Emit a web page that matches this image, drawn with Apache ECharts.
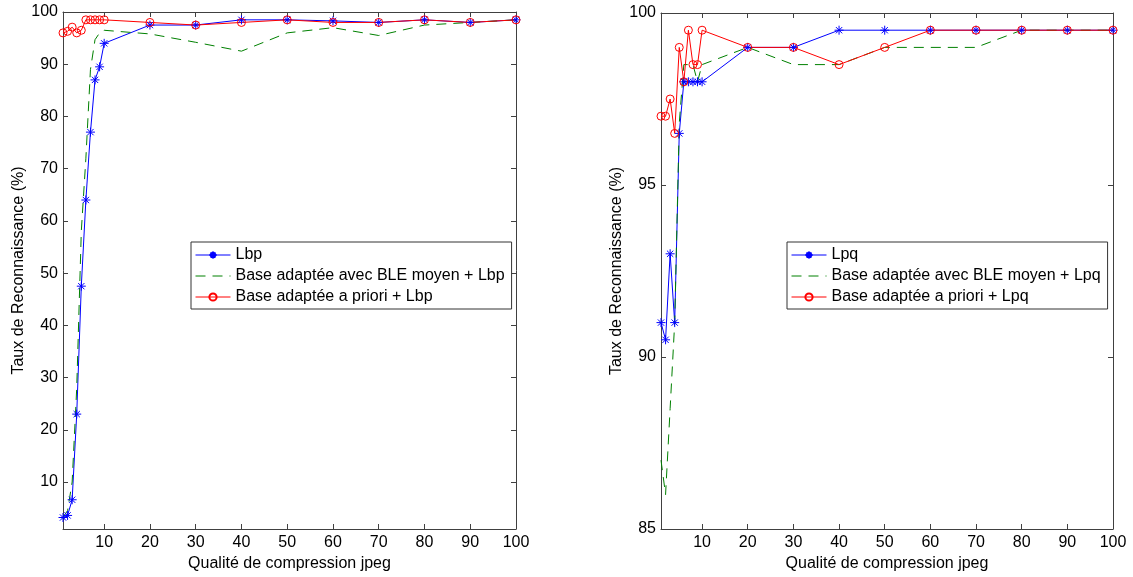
<!DOCTYPE html>
<html>
<head>
<meta charset="utf-8">
<script src="https://cdn.jsdelivr.net/npm/echarts@6/dist/echarts.min.js"></script>
<style>
html,body{margin:0;padding:0;background:#fff;}
#main{width:1133px;height:577px;}
</style>
</head>
<body>
<div id="main"></div>
<script>
// ---- data ----
var xVals = [1,2,3,4,5,6,7,8,9,10,20,30,40,50,60,70,80,90,100];
var xTicks = [10,20,30,40,50,60,70,80,90,100];
var yTicksLeft = [10,20,30,40,50,60,70,80,90,100];
var yTicksRight = [85,90,95,100];

var lbp       = [3.2,3.6,6.6,23.0,47.5,64.0,77.0,87.0,89.5,94.0,97.5,97.5,98.5,98.5,98.3,98.0,98.5,98.0,98.5];
var bleLbp    = [3.3,4.5,10.0,28.0,58.0,72.0,89.0,94.7,96.0,96.5,95.8,94.2,92.5,96.0,97.0,95.5,97.5,98.0,98.5];
var prioriLbp = [96.0,96.3,97.1,96.0,96.5,98.5,98.5,98.5,98.5,98.5,98.0,97.5,98.0,98.5,98.0,98.0,98.5,98.0,98.5];

var lpq       = [91.0,90.5,93.0,91.0,96.5,98.0,98.0,98.0,98.0,98.0,99.0,99.0,99.5,99.5,99.5,99.5,99.5,99.5,99.5];
var bleLpq    = [87.0,86.0,88.5,91.0,96.8,98.5,98.5,98.5,98.0,98.5,99.0,98.5,98.5,99.0,99.0,99.0,99.5,99.5,99.5];
var prioriLpq = [97.0,97.0,97.5,96.5,99.0,98.0,99.5,98.5,98.5,99.5,99.0,99.0,98.5,99.0,99.5,99.5,99.5,99.5,99.5];

var names = {
  lbp: 'Lbp', bleLbp: 'Base adaptée avec BLE moyen + Lbp', prioriLbp: 'Base adaptée a priori + Lbp',
  lpq: 'Lpq', bleLpq: 'Base adaptée avec BLE moyen + Lpq', prioriLpq: 'Base adaptée a priori + Lpq'
};
var xName = 'Qualité de compression jpeg';
var yName = 'Taux de Reconnaissance (%)';

// ---- build ----
function pairs(arr){ return xVals.map(function(x,i){ return [x, arr[i]]; }); }

var FONT = 'Liberation Sans, Arial, sans-serif';
var AXC = '#404040';
var starPath = 'path://M0,-10L0,10M-10,0L10,0M-7,-7L7,7M-7,7L7,-7';

function xAx(grid, top){
  return {
    type:'value', gridIndex:grid, min:1, max:100, position: top?'top':'bottom',
    axisLine:{show:true, onZero:false, lineStyle:{color:AXC, width:1}},
    axisTick:{show:true, inside:true, length:5, customValues:xTicks, lineStyle:{color:AXC}},
    axisLabel:{show:!top, customValues:xTicks, color:'#000', fontFamily:FONT, fontSize:16, margin:6},
    splitLine:{show:false},
    name: top ? '' : xName, nameLocation:'middle', nameGap:27,
    nameTextStyle:{color:'#000', fontFamily:FONT, fontSize:16}
  };
}
function yAx(grid, right, mn, ticks){
  return {
    type:'value', gridIndex:grid, min:mn, max:100, position: right?'right':'left',
    axisLine:{show:true, onZero:false, lineStyle:{color:AXC, width:1}},
    axisTick:{show:true, inside:true, length:5, customValues:ticks, lineStyle:{color:AXC}},
    axisLabel:{show:!right, customValues:ticks, color:'#000', fontFamily:FONT, fontSize:16, margin:5},
    splitLine:{show:false},
    name: right ? '' : yName, nameLocation:'middle', nameGap:36, nameRotate:90,
    nameTextStyle:{color:'#000', fontFamily:FONT, fontSize:16}
  };
}

function starSeries(name, data, xi, yi){
  return {name:name, type:'line', xAxisIndex:xi, yAxisIndex:yi, data:pairs(data),
    symbol:starPath, symbolSize:9, showAllSymbol:true,
    lineStyle:{color:'#0000ff', width:1},
    itemStyle:{color:'rgba(0,0,0,0)', borderColor:'#0000ff', borderWidth:1},
    emphasis:{disabled:true}, animation:false};
}
function dashSeries(name, data, xi, yi){
  return {name:name, type:'line', xAxisIndex:xi, yAxisIndex:yi, data:pairs(data),
    symbol:'none', lineStyle:{color:'#008000', width:1, type:[10,7]},
    itemStyle:{color:'#008000'},
    emphasis:{disabled:true}, animation:false};
}
function circSeries(name, data, xi, yi){
  return {name:name, type:'line', xAxisIndex:xi, yAxisIndex:yi, data:pairs(data),
    symbol:'circle', symbolSize:8, showAllSymbol:true,
    lineStyle:{color:'#ff0000', width:1},
    itemStyle:{color:'rgba(0,0,0,0)', borderColor:'#ff0000', borderWidth:1},
    emphasis:{disabled:true}, animation:false};
}

function legend(left, data){
  return {
    orient:'vertical', left:left, top:242, padding:[5,7,4,4],
    itemWidth:35, itemHeight:9, itemGap:5,
    backgroundColor:'#fff', borderColor:'#333', borderWidth:1,
    lineStyle:{width:1},
    textStyle:{color:'#000', fontFamily:FONT, fontSize:16},
    selectedMode:false, data:data, z:10
  };
}
function legData(a, b, c){
  return [a, {name:b, itemStyle:{opacity:0}}, c];
}

var option = {
  animation:false,
  backgroundColor:'#fff',
  grid:[
    {left:63, top:12, width:453, height:524},
    {left:661, top:13, width:452, height:523}
  ],
  xAxis:[xAx(0,false), xAx(0,true), xAx(1,false), xAx(1,true)],
  yAxis:[yAx(0,false,1,yTicksLeft), yAx(0,true,1,yTicksLeft), yAx(1,false,85,yTicksRight), yAx(1,true,85,yTicksRight)],
  legend:[
    legend(191, legData(names.lbp, names.bleLbp, names.prioriLbp)),
    legend(787, legData(names.lpq, names.bleLpq, names.prioriLpq))
  ],
  series:[
    starSeries(names.lbp, lbp, 0, 0),
    dashSeries(names.bleLbp, bleLbp, 0, 0),
    circSeries(names.prioriLbp, prioriLbp, 0, 0),
    starSeries(names.lpq, lpq, 2, 2),
    dashSeries(names.bleLpq, bleLpq, 2, 2),
    circSeries(names.prioriLpq, prioriLpq, 2, 2)
  ]
};
var chart = echarts.init(document.getElementById('main'), null, {renderer:'canvas'});
chart.setOption(option);
</script>
</body>
</html>
